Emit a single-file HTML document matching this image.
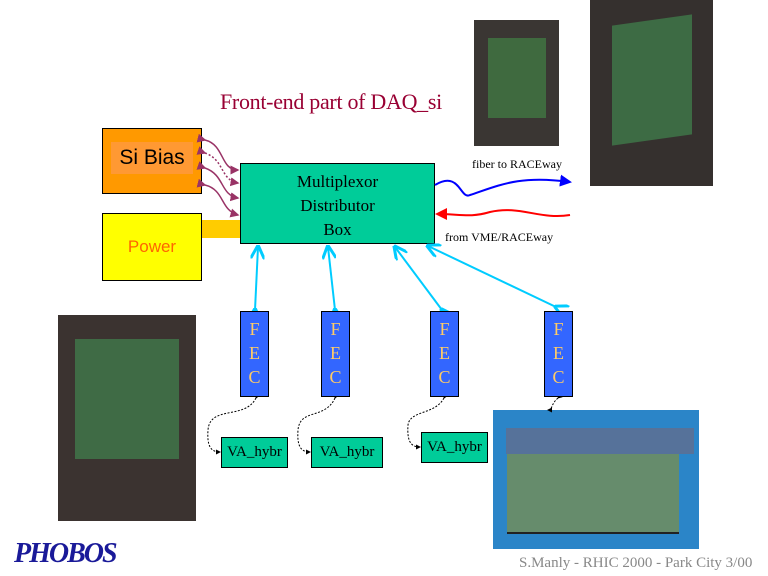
<!DOCTYPE html>
<html><head><style>
body{margin:0;width:768px;height:576px;background:#fff;position:relative;overflow:hidden;font-family:"Liberation Serif",serif}
.a{position:absolute;box-sizing:border-box}
.fec{background:#3366ff;border:1px solid #000;width:29px;height:86px;color:#ffcc66;font-size:18px;text-align:center;line-height:24px;padding-top:5px}
.va{background:#00cc99;border:1px solid #000;font-size:15px;text-align:center;line-height:28px}
</style></head><body>
<div class="a" style="left:474px;top:20px;width:85px;height:126px;background:#3a3633"><div class="a" style="left:14px;top:18px;width:58px;height:80px;background:#3f6a3f"></div></div>
<div class="a" style="left:590px;top:0;width:123px;height:186px;background:#35302e"><div class="a" style="left:22px;top:20px;width:80px;height:120px;background:#3d6b44;transform:skewY(-8deg)"></div></div>
<div class="a" style="left:58px;top:315px;width:138px;height:206px;background:#3b3330"><div class="a" style="left:17px;top:24px;width:104px;height:120px;background:#3f6b45"></div></div>
<div class="a" style="left:493px;top:410px;width:206px;height:139px;background:#2b85c8"><div class="a" style="left:13px;top:18px;width:188px;height:26px;background:#56729a"></div><div class="a" style="left:14px;top:44px;width:172px;height:80px;background:#668c6c;border-bottom:2px solid #222"></div></div>
<div class="a" style="left:220px;top:89px;font-size:22px;color:#990033;letter-spacing:-0.3px">Front-end part of DAQ_si</div>
<div class="a" style="left:102px;top:128px;width:100px;height:66px;background:#ff9900;border:1px solid #000"><div class="a" style="left:8px;top:13px;width:82px;height:32px;background:#ff9933;font:21px 'Liberation Sans',sans-serif;line-height:32px;text-align:center;color:#000">Si Bias</div></div>
<div class="a" style="left:102px;top:213px;width:100px;height:68px;background:#ffff00;border:1px solid #000;color:#ff6600;font:17px 'Liberation Sans',sans-serif;text-align:center;line-height:66px">Power</div>
<div class="a" style="left:202px;top:220px;width:38px;height:18px;background:#ffcc00"></div>
<div class="a" style="left:240px;top:163px;width:195px;height:81px;background:#00cc99;border:1px solid #000;font-size:17px;text-align:center;line-height:24px;padding-top:6px">Multiplexor<br>Distributor<br>Box</div>
<div class="a" style="left:472px;top:157px;font-size:12px">fiber to RACEway</div>
<div class="a" style="left:445px;top:230px;font-size:12px">from VME/RACEway</div>
<svg class="a" style="left:0;top:0" width="768" height="576">
<defs><marker id="m" markerWidth="6" markerHeight="6" refX="5" refY="3" orient="auto"><path d="M0,0L6,3L0,6z" fill="#993366"/></marker>
<marker id="c" markerWidth="7" markerHeight="7" refX="6" refY="3.5" orient="auto"><path d="M0,0L7,3.5L0,7" fill="none" stroke="#00ccff" stroke-width="1.5"/></marker>
<marker id="k" markerWidth="5" markerHeight="5" refX="4" refY="2.5" orient="auto"><path d="M0,0L5,2.5L0,5z" fill="#000"/></marker>
<marker id="b" markerWidth="6" markerHeight="6" refX="5" refY="3" orient="auto"><path d="M0,0L6,3L0,6z" fill="#0000ff"/></marker>
<marker id="r" markerWidth="6" markerHeight="6" refX="5" refY="3" orient="auto"><path d="M0,0L6,3L0,6z" fill="#ff0000"/></marker></defs>
<g stroke="#993366" stroke-width="1.5" fill="none" marker-end="url(#m)" marker-start="url(#m)">
<path d="M205,140 C225,145 220,170 238,170"/><path d="M205,153 C225,160 220,180 238,183" stroke-dasharray="2,2"/><path d="M205,168 C225,175 220,195 238,198"/><path d="M205,185 C225,190 220,210 238,215"/></g>
<path d="M435,185 C460,170 460,200 470,195 C500,185 520,175 570,182" stroke="#0000ff" stroke-width="2" fill="none" marker-end="url(#b)"/>
<path d="M570,215 C540,220 520,205 490,212 C470,218 460,214 437,214" stroke="#ff0000" stroke-width="2" fill="none" marker-end="url(#r)"/>
<g stroke="#00ccff" stroke-width="2" marker-end="url(#c)" marker-start="url(#c)">
<line x1="255" y1="310" x2="258" y2="247"/><line x1="335" y1="310" x2="328" y2="247"/><line x1="442" y1="310" x2="395" y2="247"/><line x1="556" y1="307" x2="428" y2="246"/></g>
<g stroke="#000" stroke-dasharray="2,1.5" fill="none" marker-end="url(#k)" marker-start="url(#k)">
<path d="M256,398 C245,420 210,405 208,430 C207,445 210,452 220,452"/>
<path d="M335,398 C325,420 300,408 298,430 C297,445 300,452 310,452"/>
<path d="M444,398 C435,415 410,410 408,425 C407,440 410,447 420,447"/>
<path d="M558,398 C550,405 553,410 548,410"/></g>
</svg>
<div class="a fec" style="left:240px;top:311px">F<br>E<br>C</div>
<div class="a fec" style="left:321px;top:311px">F<br>E<br>C</div>
<div class="a fec" style="left:430px;top:311px">F<br>E<br>C</div>
<div class="a fec" style="left:544px;top:311px">F<br>E<br>C</div>
<div class="a va" style="left:221px;top:437px;width:67px;height:31px">VA_hybr</div>
<div class="a va" style="left:311px;top:437px;width:72px;height:31px">VA_hybr</div>
<div class="a va" style="left:421px;top:432px;width:67px;height:31px">VA_hybr</div>
<div class="a" style="left:14px;top:538px;font:italic bold 28px 'Liberation Serif',serif;color:#1a1a99;letter-spacing:-2px">PHOBOS</div>
<div class="a" style="left:519px;top:555px;font-size:15px;color:#888">S.Manly - RHIC 2000 - Park City 3/00</div>
</body></html>
